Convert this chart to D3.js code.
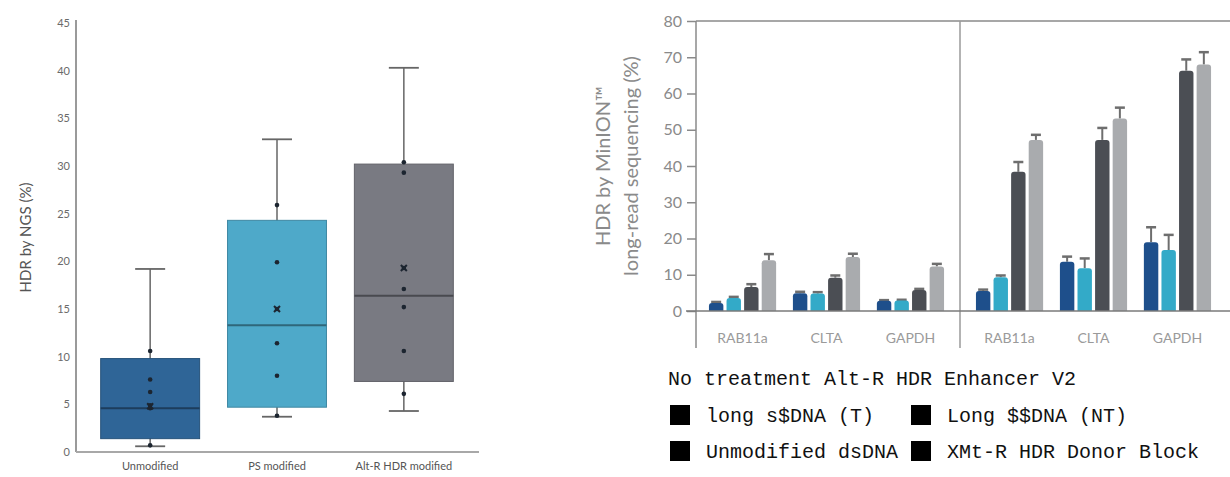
<!DOCTYPE html>
<html>
<head>
<meta charset="utf-8">
<script src="https://cdn.jsdelivr.net/npm/d3@7"></script>
<style>
  body { margin: 0; background: #fff; }
  svg { display: block; }
  text { font-family: Lato, "Open Sans", sans-serif; }
</style>
</head>
<body>
<svg id="chart" width="1230" height="477"></svg>
<script>
// ---- left panel: HDR by NGS ----
var boxGroups = ['Unmodified', 'PS modified', 'Alt-R HDR modified'];
var boxQ1 = [1.4, 4.7, 7.4];
var boxMedian = [4.6, 13.3, 16.4];
var boxQ3 = [9.8, 24.3, 30.2];
var whiskerLow = [0.6, 3.7, 4.3];
var whiskerHigh = [19.2, 32.8, 40.3];
var boxPoints = [
    [10.6, 7.6, 6.3, 4.9, 4.6, 0.7],
    [25.9, 19.9, 15.0, 11.4, 8.0, 3.8],
    [30.4, 29.3, 19.3, 17.1, 15.2, 10.6, 6.1]
];
var boxMeans = [4.8, 15.0, 19.3];
var boxColors = ['#2f6597', '#4ea9c9', '#797a82'];
var ngsTicks = [0, 5, 10, 15, 20, 25, 30, 35, 40, 45];

// ---- right panel: HDR by MinION ----
var genes = ['RAB11a', 'CLTA', 'GAPDH'];
var treatments = ['No treatment', 'Alt-R HDR Enhancer V2'];
var donors = ['long s$DNA (T)', 'Long $$DNA (NT)', 'Unmodified dsDNA', 'XMt-R HDR Donor Block'];
// values per treatment, per gene, per donor
var noTreatment = [
    [2.2, 3.6, 6.6, 14.0],
    [4.9, 4.8, 9.2, 14.9],
    [2.8, 2.9, 5.8, 12.3]
];
var noTreatmentErr = [
    [0.3, 0.3, 0.8, 1.7],
    [0.4, 0.4, 0.6, 0.9],
    [0.2, 0.2, 0.3, 0.7]
];
var enhancer = [
    [5.5, 9.3, 38.4, 47.2],
    [13.6, 11.8, 47.2, 53.1],
    [19.0, 16.8, 66.3, 68.0]
];
var enhancerErr = [
    [0.4, 0.5, 2.7, 1.4],
    [1.4, 2.7, 3.3, 3.0],
    [4.1, 4.2, 3.1, 3.4]
];
var barColors = ['#1e4f8b', '#33aac8', '#4b4e54', '#a9abae'];
var minionTicks = [0, 10, 20, 30, 40, 50, 60, 70, 80];

var svg = d3.select('#chart');

// ================= box plot =================
var boxArea = svg.append('g');

var yN = d3.scaleLinear().domain([0, 45]).range([452, 23]);
var xN = d3.scaleBand().domain(boxGroups).range([88, 466]).paddingInner(0.22).paddingOuter(0.1);

// axes lines
boxArea.append('line')
    .attr('x1', 76).attr('x2', 76).attr('y1', yN(45) - 3).attr('y2', yN(0))
    .attr('stroke', '#9a9a9a').attr('stroke-width', 2);
boxArea.append('line')
    .attr('x1', 76).attr('x2', 479).attr('y1', yN(0)).attr('y2', yN(0))
    .attr('stroke', '#a8a8a8').attr('stroke-width', 2);

boxArea.selectAll('.ytick').data(ngsTicks).enter().append('text')
    .attr('x', 70).attr('y', function(d) { return yN(d); })
    .attr('dy', '0.35em')
    .attr('text-anchor', 'end')
    .attr('font-size', 11)
    .attr('fill', '#6a6a6a')
    .text(function(d) { return d; });

boxArea.append('text')
    .attr('transform', 'translate(31,' + yN(22.5) + ') rotate(-90)')
    .attr('text-anchor', 'middle')
    .attr('font-size', 15)
    .attr('fill', '#555')
    .text('HDR by NGS (%)');

boxArea.selectAll('.xlab').data(boxGroups).enter().append('text')
    .attr('x', function(d) { return xN(d) + xN.bandwidth() / 2; })
    .attr('y', 470)
    .attr('text-anchor', 'middle')
    .attr('font-size', 11)
    .attr('fill', '#555')
    .text(function(d) { return d; });

boxGroups.forEach(function(g, i) {
    var cx = xN(g) + xN.bandwidth() / 2,
        grp = boxArea.append('g');

    // whisker
    grp.append('line')
        .attr('x1', cx).attr('x2', cx)
        .attr('y1', yN(whiskerHigh[i])).attr('y2', yN(whiskerLow[i]))
        .attr('stroke', '#666').attr('stroke-width', 1.5);
    [whiskerHigh[i], whiskerLow[i]].forEach(function(v) {
        grp.append('line')
            .attr('x1', cx - 15).attr('x2', cx + 15)
            .attr('y1', yN(v)).attr('y2', yN(v))
            .attr('stroke', '#666').attr('stroke-width', 1.8);
    });

    grp.append('rect')
        .attr('x', xN(g))
        .attr('y', yN(boxQ3[i]))
        .attr('width', xN.bandwidth())
        .attr('height', yN(boxQ1[i]) - yN(boxQ3[i]))
        .attr('fill', boxColors[i])
        .attr('stroke', d3.color(boxColors[i]).darker(0.6))
        .attr('stroke-width', 1);

    grp.append('line')
        .attr('x1', xN(g)).attr('x2', xN(g) + xN.bandwidth())
        .attr('y1', yN(boxMedian[i])).attr('y2', yN(boxMedian[i]))
        .attr('stroke', d3.color(boxColors[i]).darker(1.4))
        .attr('stroke-width', 2);

    grp.selectAll('circle').data(boxPoints[i]).enter().append('circle')
        .attr('cx', cx)
        .attr('cy', function(d) { return yN(d); })
        .attr('r', 2.3)
        .attr('fill', '#1c2530');

    // mean marker
    var my = yN(boxMeans[i]);
    grp.append('path')
        .attr('d', 'M' + (cx - 3) + ',' + (my - 3) + 'L' + (cx + 3) + ',' + (my + 3)
            + 'M' + (cx + 3) + ',' + (my - 3) + 'L' + (cx - 3) + ',' + (my + 3))
        .attr('stroke', '#1c2530').attr('stroke-width', 2);
});

// ================= bar chart =================
var barArea = svg.append('g');

var yM = d3.scaleLinear().domain([0, 80]).range([311, 21]);
var xPanel = d3.scaleBand().domain(treatments).range([693, 1227]);
var xGene = d3.scaleBand().domain(genes).range([0, xPanel.bandwidth()]).paddingInner(0.2).paddingOuter(0.19);
var xDonor = d3.scaleBand().domain(donors).range([0, xGene.bandwidth()]).paddingInner(0.18);

// frame
barArea.append('line')
    .attr('x1', 696).attr('x2', 1230).attr('y1', yM(80)).attr('y2', yM(80))
    .attr('stroke', '#8a8a8a').attr('stroke-width', 1.5);
barArea.append('line')
    .attr('x1', 696).attr('x2', 696).attr('y1', yM(80)).attr('y2', 348)
    .attr('stroke', '#8a8a8a').attr('stroke-width', 1.5);
barArea.append('line')
    .attr('x1', xPanel(treatments[1])).attr('x2', xPanel(treatments[1]))
    .attr('y1', yM(80)).attr('y2', 348)
    .attr('stroke', '#9a9a9a').attr('stroke-width', 1.5);

var yAxis = d3.axisLeft(yM).tickValues(minionTicks).tickSize(9).tickPadding(5);
var yAxisG = barArea.append('g')
    .attr('transform', 'translate(696,0)')
    .call(yAxis);
yAxisG.select('.domain').remove();
yAxisG.selectAll('line').attr('stroke', '#8a8a8a').attr('stroke-width', 1.5);
yAxisG.selectAll('text')
    .attr('font-size', 16)
    .attr('fill', '#8a8a8a')
    .style('font-family', 'Lato, "Open Sans", sans-serif');

barArea.append('text')
    .attr('transform', 'translate(610,' + yM(40) + ') rotate(-90)')
    .attr('text-anchor', 'middle')
    .attr('font-size', 20)
    .attr('fill', '#8a8a8a')
    .text('HDR by MinION\u2122');
barArea.append('text')
    .attr('transform', 'translate(638,' + yM(40) + ') rotate(-90)')
    .attr('text-anchor', 'middle')
    .attr('font-size', 20)
    .attr('fill', '#8a8a8a')
    .text('long-read sequencing (%)');

[noTreatment, enhancer].forEach(function(vals, t) {
    var errs = t === 0 ? noTreatmentErr : enhancerErr,
        px = xPanel(treatments[t]);

    genes.forEach(function(gene, gi) {
        var gx = px + xGene(gene);

        barArea.append('text')
            .attr('x', gx + xGene.bandwidth() / 2)
            .attr('y', 343)
            .attr('text-anchor', 'middle')
            .attr('font-size', 14)
            .attr('fill', '#9a9a9a')
            .text(gene);

        donors.forEach(function(donor, di) {
            var v = vals[gi][di],
                e = errs[gi][di],
                bx = gx + xDonor(donor),
                bw = xDonor.bandwidth(),
                cx = bx + bw / 2;

            // error bar
            barArea.append('line')
                .attr('x1', cx).attr('x2', cx)
                .attr('y1', yM(v)).attr('y2', yM(v + e))
                .attr('stroke', '#6e6e6e').attr('stroke-width', 2);
            barArea.append('line')
                .attr('x1', cx - 5).attr('x2', cx + 5)
                .attr('y1', yM(v + e)).attr('y2', yM(v + e))
                .attr('stroke', '#6e6e6e').attr('stroke-width', 2.5);

            barArea.append('path')
                .attr('d', function() {
                    var top = yM(v), bot = yM(0), r = Math.min(3, (bot - top) / 2);
                    return 'M' + bx + ',' + bot + 'V' + (top + r)
                        + 'Q' + bx + ',' + top + ' ' + (bx + r) + ',' + top
                        + 'H' + (bx + bw - r)
                        + 'Q' + (bx + bw) + ',' + top + ' ' + (bx + bw) + ',' + (top + r)
                        + 'V' + bot + 'Z';
                })
                .attr('fill', barColors[di]);
        });
    });
});

// baseline
barArea.append('line')
    .attr('x1', 686).attr('x2', 1230).attr('y1', yM(0)).attr('y2', yM(0))
    .attr('stroke', '#7a7a7a').attr('stroke-width', 1.5);

// legend
var legend = svg.append('g');

legend.append('text')
    .attr('x', 668).attr('y', 385)
    .attr('font-size', 20)
    .attr('fill', '#111')
    .style('font-family', '"Liberation Mono", "DejaVu Sans Mono", monospace')
    .text(treatments.join(' '));

donors.forEach(function(d, i) {
    var col = i % 2,
        row = Math.floor(i / 2),
        lx = col === 0 ? 670 : 911,
        ly = 405 + row * 36;

    legend.append('rect')
        .attr('x', lx).attr('y', ly)
        .attr('width', 20).attr('height', 20)
        .attr('fill', '#000');
    legend.append('text')
        .attr('x', lx + 36).attr('y', ly + 17)
        .attr('font-size', 20)
        .attr('fill', '#111')
        .style('font-family', '"Liberation Mono", "DejaVu Sans Mono", monospace')
        .text(d);
});
</script>
</body>
</html>
